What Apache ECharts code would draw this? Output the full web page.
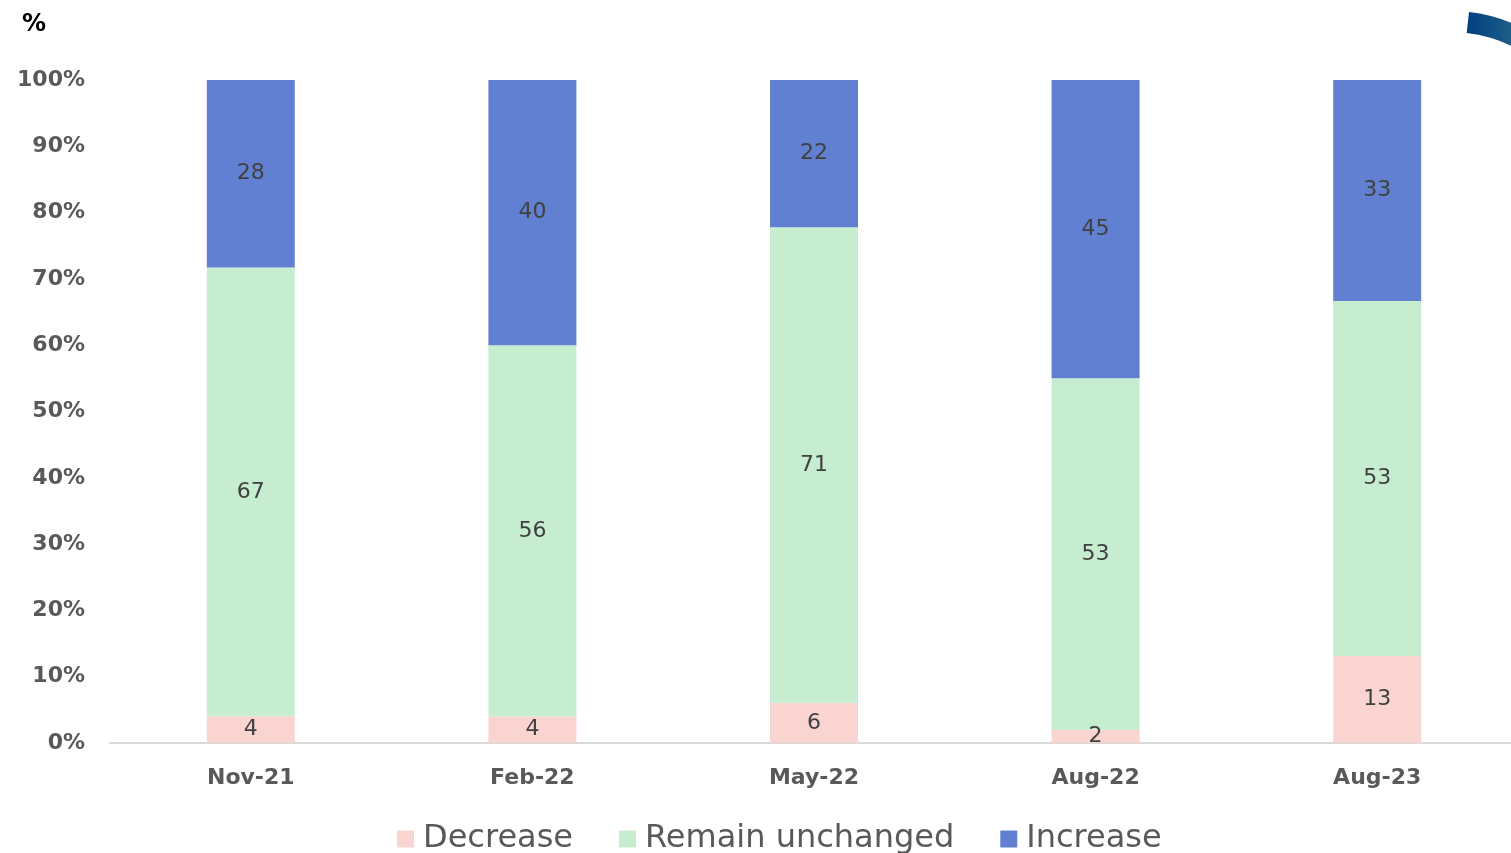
<!DOCTYPE html>
<html>
<head>
<meta charset="utf-8">
<script src="https://cdn.jsdelivr.net/npm/echarts@6/dist/echarts.min.js"></script>
<style>
  html, body { margin: 0; padding: 0; background: #fff; }
  #chart { width: 1511px; height: 853px; }
</style>
</head>
<body>
<div id="chart"></div>
<script>
// 数据
const categories = ['Nov-21', 'Feb-22', 'May-22', 'Aug-22', 'Aug-23'];
const decrease = [4, 4, 6, 2, 13];
const unchanged = [67, 56, 71, 53, 53];
const increase = [28, 40, 22, 45, 33];
const yTicks = ['0%', '10%', '20%', '30%', '40%', '50%', '60%', '70%', '80%', '90%', '100%'];

// 颜色
const colors = {
    decrease: '#F9D4D1',
    unchanged: '#C6EDD0',
    increase: '#6280D1',
    text: '#595959',
    label: '#404040'
};

const fontFamily = '"DejaVu Sans", sans-serif';

// 100% 堆叠: 按每列总和归一
const totals = categories.map((_, i) => decrease[i] + unchanged[i] + increase[i]);
const share = (arr) => arr.map((v, i) => ({ value: v / totals[i] * 100, raw: v }));

function makeSeries(name, arr, color) {
    return {
        name: name,
        type: 'bar',
        stack: 'total',
        barWidth: 88,
        data: share(arr),
        itemStyle: { color: color },
        label: {
            show: true,
            position: 'inside',
            color: colors.label,
            fontSize: 22,
            fontFamily: fontFamily,
            formatter: (p) => p.data.raw
        }
    };
}

const chart = echarts.init(document.getElementById('chart'));

const option = {
    backgroundColor: '#fff',
    animation: false,
    grid: {
        left: 110,
        width: 1408,
        top: 80,
        bottom: 110,
        containLabel: false,
        outerBoundsMode: 'none'
    },
    xAxis: {
        type: 'category',
        data: categories,
        axisLine: { lineStyle: { color: '#D9D9D9', width: 2 } },
        axisTick: { show: false },
        axisLabel: {
            color: colors.text,
            fontSize: 22,
            fontWeight: 'bold',
            fontFamily: fontFamily,
            margin: 24
        }
    },
    yAxis: {
        type: 'value',
        min: 0,
        max: 100,
        interval: 10,
        axisLine: { show: false },
        axisTick: { show: false },
        splitLine: { show: false },
        axisLabel: {
            color: colors.text,
            fontSize: 22,
            fontWeight: 'bold',
            fontFamily: fontFamily,
            margin: 25,
            formatter: (v) => yTicks[Math.round(v / 10)]
        }
    },
    legend: {
        bottom: -7,
        left: 392,
        itemWidth: 17,
        itemHeight: 17,
        itemGap: 46,
        icon: 'rect',
        textStyle: {
            color: colors.text,
            fontSize: 32,
            fontFamily: fontFamily,
            padding: [0, 0, 0, 4]
        },
        data: ['Decrease', 'Remain unchanged', 'Increase']
    },
    graphic: [
        {
            type: 'text',
            left: 22,
            top: 13,
            style: {
                text: '%',
                fill: '#000',
                font: 'bold 24px ' + fontFamily
            }
        },
        {
            type: 'sector',
            shape: {
                cx: 1451,
                cy: 170,
                r: 159,
                r0: 138,
                startAngle: -1.457,
                endAngle: -1.0,
                clockwise: true
            },
            style: {
                fill: new echarts.graphic.LinearGradient(0, 0, 1, 0, [
                    { offset: 0, color: '#003F80' },
                    { offset: 1, color: '#2E6E8C' }
                ])
            }
        }
    ],
    series: [
        makeSeries('Decrease', decrease, colors.decrease),
        makeSeries('Remain unchanged', unchanged, colors.unchanged),
        makeSeries('Increase', increase, colors.increase)
    ]
};

chart.setOption(option);
</script>
</body>
</html>
